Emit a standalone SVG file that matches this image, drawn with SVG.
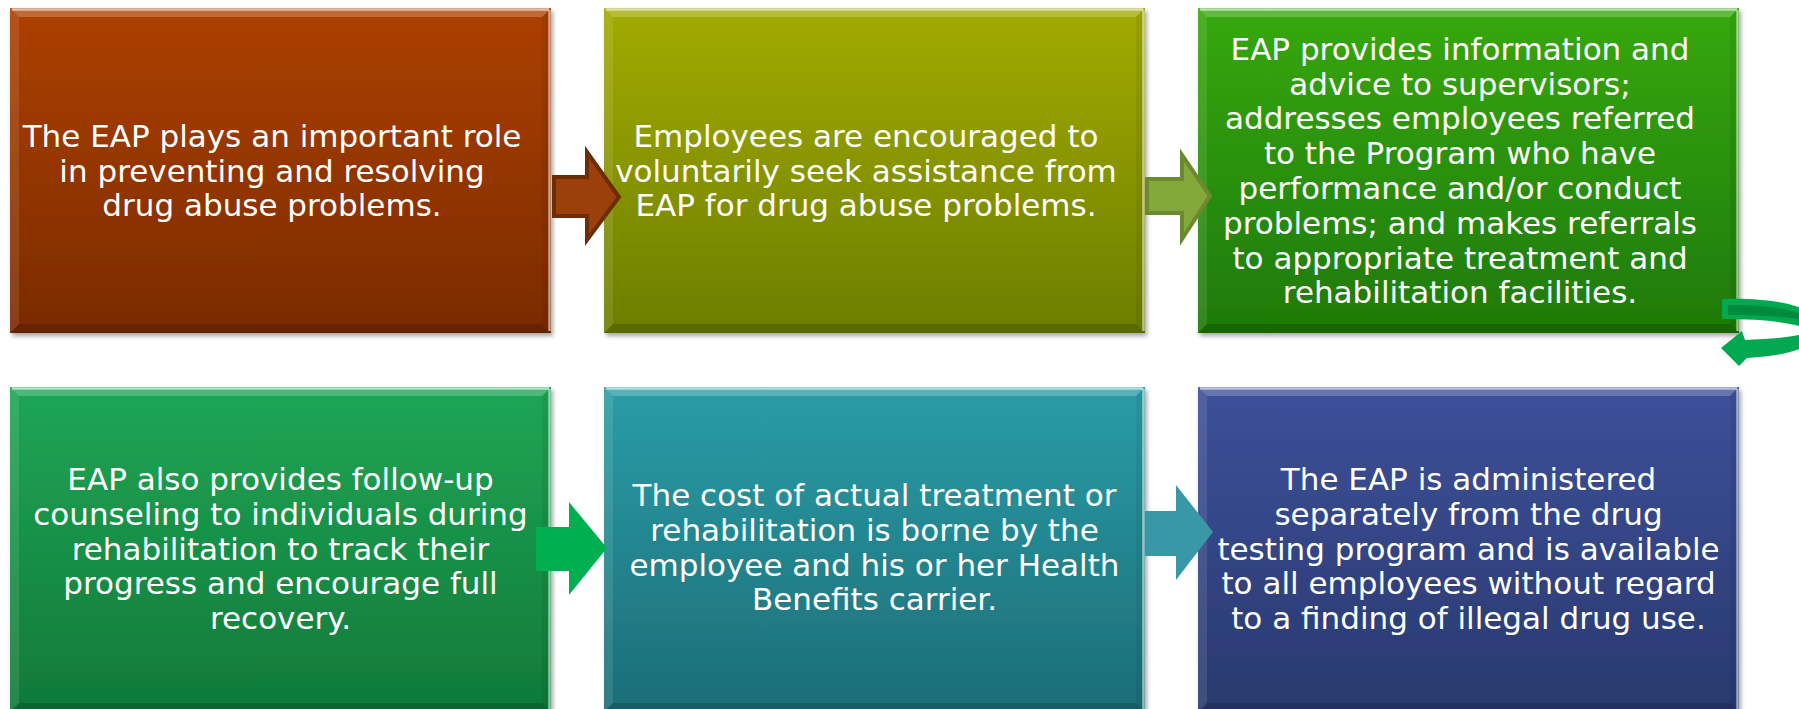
<svg xmlns="http://www.w3.org/2000/svg" xmlns:xlink="http://www.w3.org/1999/xlink" width="1799" height="709" viewBox="0 0 1799 709">
<style>
.t{font-family:"DejaVu Sans","Verdana",sans-serif;font-size:31px;fill:#ffffff;text-anchor:middle}
.bt{fill:#ffffff;fill-opacity:0.22}
.bl{fill:#ffffff;fill-opacity:0.10}
.br{fill:#000000;fill-opacity:0.06}
.bb{fill:#000000;fill-opacity:0.16}
.hl{fill:none;stroke:#ffffff;stroke-opacity:0.55;stroke-width:2.5}
.box{filter:url(#sh)}
</style>
<defs>
<filter id="sh" x="-5%" y="-5%" width="110%" height="115%">
<feDropShadow dx="2" dy="3" stdDeviation="2" flood-color="#000" flood-opacity="0.35"/>
</filter>
<linearGradient id="g1" x1="0" y1="0" x2="0" y2="1"><stop offset="0" stop-color="#ad4000"/><stop offset="1" stop-color="#7a2b00"/></linearGradient>
<linearGradient id="g2" x1="0" y1="0" x2="0" y2="1"><stop offset="0" stop-color="#a2ab00"/><stop offset="1" stop-color="#6c7e00"/></linearGradient>
<linearGradient id="g3" x1="0" y1="0" x2="0" y2="1"><stop offset="0" stop-color="#36a80e"/><stop offset="1" stop-color="#1e7906"/></linearGradient>
<linearGradient id="g4" x1="0" y1="0" x2="0" y2="1"><stop offset="0" stop-color="#1fa655"/><stop offset="1" stop-color="#10793a"/></linearGradient>
<linearGradient id="g5" x1="0" y1="0" x2="0" y2="1"><stop offset="0" stop-color="#2a9da7"/><stop offset="1" stop-color="#1c6d77"/></linearGradient>
<linearGradient id="g6" x1="0" y1="0" x2="0" y2="1"><stop offset="0" stop-color="#3d509a"/><stop offset="1" stop-color="#29396e"/></linearGradient>
<g id="bevel">
<polygon class="bt" points="0,0 541,0 532,9 9,9"/>
<polygon class="bl" points="0,0 9,9 9,316 0,325"/>
<polygon class="br" points="541,0 541,325 532,316 532,9"/>
<polygon class="bb" points="0,325 541,325 532,316 9,316"/>
<line class="hl" x1="539.5" y1="2" x2="539.5" y2="323"/>
<line class="hl" x1="2" y1="1.5" x2="539" y2="1.5"/>
</g>
</defs>
<rect width="1799" height="709" fill="#ffffff"/>

<g id="node1">
<rect class="box" x="10" y="8" width="541" height="325" fill="url(#g1)"/>
<use xlink:href="#bevel" x="10" y="8"/>
<text class="t"><tspan x="272" y="146.7">The EAP plays an important role</tspan><tspan x="272" y="181.5">in preventing and resolving</tspan><tspan x="272" y="216.3">drug abuse problems.</tspan></text>
</g>

<g id="node2">
<rect class="box" x="604" y="8" width="541" height="325" fill="url(#g2)"/>
<use xlink:href="#bevel" x="604" y="8"/>
<text class="t"><tspan x="866" y="146.7">Employees are encouraged to</tspan><tspan x="866" y="181.5">voluntarily seek assistance from</tspan><tspan x="866" y="216.3">EAP for drug abuse problems.</tspan></text>
</g>

<g id="node3">
<rect class="box" x="1198" y="8" width="541" height="325" fill="url(#g3)"/>
<use xlink:href="#bevel" x="1198" y="8"/>
<text class="t"><tspan x="1460" y="59.7">EAP provides information and</tspan><tspan x="1460" y="94.5">advice to supervisors;</tspan><tspan x="1460" y="129.3">addresses employees referred</tspan><tspan x="1460" y="164.1">to the Program who have</tspan><tspan x="1460" y="198.9">performance and/or conduct</tspan><tspan x="1460" y="233.7">problems; and makes referrals</tspan><tspan x="1460" y="268.5">to appropriate treatment and</tspan><tspan x="1460" y="303.3">rehabilitation facilities.</tspan></text>
</g>

<g id="node4">
<rect class="box" x="10" y="387" width="541" height="325" fill="url(#g4)"/>
<use xlink:href="#bevel" x="10" y="387"/>
<text class="t"><tspan x="280.5" y="489.9">EAP also provides follow-up</tspan><tspan x="280.5" y="524.7">counseling to individuals during</tspan><tspan x="280.5" y="559.5">rehabilitation to track their</tspan><tspan x="280.5" y="594.3">progress and encourage full</tspan><tspan x="280.5" y="629.1">recovery.</tspan></text>
</g>

<g id="node5">
<rect class="box" x="604" y="387" width="541" height="325" fill="url(#g5)"/>
<use xlink:href="#bevel" x="604" y="387"/>
<text class="t"><tspan x="874.5" y="506">The cost of actual treatment or</tspan><tspan x="874.5" y="540.8">rehabilitation is borne by the</tspan><tspan x="874.5" y="575.6">employee and his or her Health</tspan><tspan x="874.5" y="610.4">Benefits carrier.</tspan></text>
</g>

<g id="node6">
<rect class="box" x="1198" y="387" width="541" height="325" fill="url(#g6)"/>
<use xlink:href="#bevel" x="1198" y="387"/>
<text class="t"><tspan x="1468.5" y="489.9">The EAP is administered</tspan><tspan x="1468.5" y="524.7">separately from the drug</tspan><tspan x="1468.5" y="559.5">testing program and is available</tspan><tspan x="1468.5" y="594.3">to all employees without regard</tspan><tspan x="1468.5" y="629.1">to a finding of illegal drug use.</tspan></text>
</g>

<g id="connectors">
<polygon points="554,177 587,177 587,152 619,197 587,240 587,216 554,216" fill="#9b3f0b" stroke="#6b2d07" stroke-width="4" stroke-linejoin="miter"/>
<polygon points="1147,179 1182,179 1182,155 1210,196 1182,239 1182,213 1147,213" fill="#85a83c" stroke="#6b8a2e" stroke-width="4" stroke-linejoin="miter"/>
<polygon points="536,527 569,527 569,502 607,548 569,595 569,571 536,571" fill="#00b050"/>
<polygon points="1145,511 1176,511 1176,485 1213,532 1176,580 1176,556 1145,556" fill="#3a97a7"/>
<path d="M1722,299 C1775,297 1820,307 1820,327 C1820,346 1790,356 1747,358 L1739,366 L1721,348 L1742,331 L1745,340 C1775,339 1806,336 1806,331 C1806,325 1775,319 1722,319 Z" fill="#00a850"/>
<path d="M1728,305 C1770,304 1806,311 1814,323 C1795,317 1765,315 1728,315 Z" fill="#008a3e"/>
</g>
</svg>
